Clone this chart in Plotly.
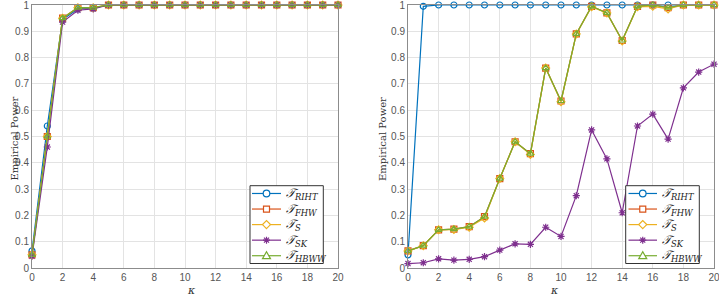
import plotly.graph_objects as go

kappa = list(range(21))

# Left panel
L_RIHT = [0.065, 0.54, 0.945, 0.985, 0.988] + [1.0] * 16
L_FHW = [0.05, 0.50, 0.95, 0.99, 0.99] + [1.0] * 16
L_S = [0.05, 0.50, 0.95, 0.99, 0.99] + [1.0] * 16
L_SK = [0.045, 0.46, 0.935, 0.98, 0.985] + [1.0] * 16
L_HBWW = [0.05, 0.50, 0.95, 0.99, 0.99] + [1.0] * 16

# Right panel
R_RIHT = [0.05, 0.995] + [1.0] * 19
R_FHW = [0.065, 0.085, 0.145, 0.148, 0.157, 0.195, 0.34, 0.48, 0.435, 0.76, 0.635,
         0.89, 0.995, 0.97, 0.865, 0.995, 1.0, 0.99, 1.0, 1.0, 1.0]
R_S = [0.065, 0.085, 0.145, 0.146, 0.155, 0.19, 0.34, 0.48, 0.432, 0.76, 0.632,
       0.89, 0.993, 0.97, 0.863, 0.993, 0.995, 0.985, 1.0, 1.0, 1.0]
R_SK = [0.017, 0.02, 0.035, 0.03, 0.033, 0.043, 0.068, 0.092, 0.09, 0.155, 0.12,
        0.275, 0.525, 0.415, 0.21, 0.54, 0.585, 0.49, 0.685, 0.745, 0.775]
R_HBWW = [0.065, 0.085, 0.145, 0.148, 0.157, 0.195, 0.34, 0.48, 0.435, 0.76, 0.635,
          0.89, 0.995, 0.97, 0.865, 0.995, 1.0, 0.99, 1.0, 1.0, 1.0]

x_ticks = list(range(0, 21, 2))
x_ticktext = [str(v) for v in x_ticks]
y_ticks = [i / 10 for i in range(11)]
y_ticktext = ["0", "0.1", "0.2", "0.3", "0.4", "0.5", "0.6", "0.7", "0.8", "0.9", "1"]

names = ["RIHT", "FHW", "S", "SK", "HBWW"]
colors = ["#0072BD", "#D95319", "#EDB120", "#7E2F8E", "#77AC30"]
symbols = ["circle-open", "square-open", "diamond-open", "asterisk-open", "triangle-up-open"]

W, H = 719, 297

fig = go.Figure()

def label(n):
    return "<i>𝒯</i><sub><i>%s</i></sub>" % n

for panel, series, xa, ya in [
    (0, [L_RIHT, L_FHW, L_S, L_SK, L_HBWW], "x", "y"),
    (1, [R_RIHT, R_FHW, R_S, R_SK, R_HBWW], "x2", "y2"),
]:
    for i, vals in enumerate(series):
        fig.add_trace(go.Scatter(
            x=kappa, y=vals, mode="lines+markers", name=names[i],
            line=dict(color=colors[i], width=1.2),
            marker=dict(symbol=symbols[i], size=6, color=colors[i],
                        line=dict(color=colors[i], width=1.2)),
            xaxis=xa, yaxis=ya, cliponaxis=False, showlegend=False,
        ))

axis_common = dict(
    showgrid=True, gridcolor="#e3e3e3", gridwidth=1,
    showline=True, linecolor="#8c8c8c", linewidth=1, mirror=True,
    ticks="", zeroline=False, automargin=False, ticklabeloverflow="allow",
    tickfont=dict(family="Liberation Sans, Arial", size=10, color="#555555"),
)
xaxis_common = dict(range=[0, 20], tickmode="array", tickvals=x_ticks, ticktext=x_ticktext, **axis_common)
yaxis_common = dict(range=[0, 1], tickmode="array", tickvals=y_ticks, ticktext=y_ticktext, **axis_common)

fig.update_layout(
    width=W, height=H,
    margin=dict(l=0, r=0, t=0, b=0),
    paper_bgcolor="white", plot_bgcolor="white",
    xaxis=dict(domain=[32/W, 338/W], **xaxis_common),
    yaxis=dict(domain=[1-268/H, 1-5/H], **yaxis_common),
    xaxis2=dict(domain=[408/W, 714/W], anchor="y2", **xaxis_common),
    yaxis2=dict(domain=[1-268/H, 1-5/H], anchor="x2", **yaxis_common),
    showlegend=False,
)

# axis titles
for xc in [6/W, 382/W]:
    fig.add_annotation(text="Empirical Power", x=xc, y=1-139/H, xref="paper", yref="paper",
                       showarrow=False, textangle=-90,
                       font=dict(family="DejaVu Serif", size=10, color="#333333"))
for xc in [185/W, 561/W]:
    fig.add_annotation(text="<i>κ</i>", x=xc, y=1-290/H, xref="paper", yref="paper",
                       yanchor="middle", showarrow=False,
                       font=dict(family="DejaVu Serif", size=11, color="#333333"))

# custom legends (box, line samples, marker glyphs, labels)
def px(x):
    return x / W

def py(y):
    return 1 - y / H

marker_paths = {
    "circle-open": None,
    "square-open": "M-3,-3 L3,-3 L3,3 L-3,3 Z",
    "diamond-open": "M0,-4 L4,0 L0,4 L-4,0 Z",
    "asterisk-open": "M-3.5,0 L3.5,0 M0,-3.5 L0,3.5 M-2.5,-2.5 L2.5,2.5 M-2.5,2.5 L2.5,-2.5",
    "triangle-up-open": "M-4,-3 L4,-3 L0,4 Z",
}

for box_l, box_r, line_l, line_r, text_x in [
    (250, 323.3, 252, 281, 284),
    (625.7, 699.3, 628.5, 657, 659.5),
]:
    top, bot = 185.7, 263.5
    fig.add_shape(type="rect", xref="paper", yref="paper",
                  x0=px(box_l), x1=px(box_r), y0=py(bot), y1=py(top),
                  line=dict(color="#333333", width=1), fillcolor="white", layer="above")
    step = (bot - top) / 5
    for i in range(5):
        yc = top + step * (i + 0.5)
        fig.add_shape(type="line", xref="paper", yref="paper",
                      x0=px(line_l), x1=px(line_r), y0=py(yc), y1=py(yc),
                      line=dict(color=colors[i], width=1.2), layer="above")
        xm = (line_l + line_r) / 2
        path = marker_paths[symbols[i]]
        if path is None:
            fig.add_shape(type="circle", xref="paper", yref="paper",
                          xsizemode="pixel", ysizemode="pixel",
                          xanchor=px(xm), yanchor=py(yc),
                          x0=-3.3, x1=3.3, y0=-3.3, y1=3.3,
                          line=dict(color=colors[i], width=1.2), fillcolor="white", layer="above")
        else:
            fig.add_shape(type="path", xref="paper", yref="paper",
                          xsizemode="pixel", ysizemode="pixel",
                          xanchor=px(xm), yanchor=py(yc), path=path,
                          line=dict(color=colors[i], width=1.2),
                          fillcolor="white" if "asterisk" not in symbols[i] else None,
                          layer="above")
        fig.add_annotation(text=label(names[i]), x=px(text_x), y=py(yc + 0.5),
                           xref="paper", yref="paper", xanchor="left", yanchor="middle",
                           showarrow=False,
                           font=dict(family="DejaVu Serif", size=12, color="#222222"))

fig.write_html("out.html")
